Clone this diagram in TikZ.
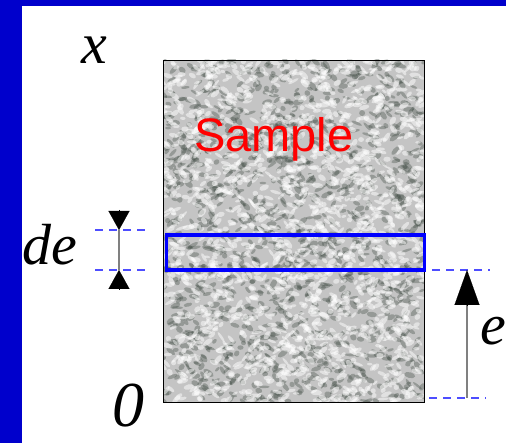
\documentclass[tikz,border=0pt]{standalone}
\usepackage{fontspec}
\setmainfont{Liberation Serif}
\setsansfont{Liberation Sans}
\usetikzlibrary{arrows.meta}
\definecolor{frameblue}{HTML}{0000CC}
\definecolor{boxblue}{HTML}{0000FF}
\definecolor{dashblue}{HTML}{4D4DFF}
\definecolor{texbase}{HTML}{C4C4C4}
\definecolor{texdark}{HTML}{3E4A42}
\definecolor{arrgray}{HTML}{808080}
\tikzset{
  lbl/.style={inner sep=0pt, anchor=base west, font=\fontsize{58}{60}\selectfont\itshape},
  guide/.style={dashblue, line width=1.1pt, dash pattern=on 8pt off 6pt},
  shaft/.style={arrgray, line width=1.5pt},
  headA/.style={-{Triangle[length=19pt,width=21pt,black]}, line width=0.1pt, black},
  headB/.style={-{Triangle[length=35pt,width=25pt,black]}, line width=0.1pt, black},
}
\begin{document}
\begin{tikzpicture}[x=1pt,y=-1pt]
\useasboundingbox (0,0) rectangle (506,443);
\fill[white] (0,0) rectangle (506,443);
% frame
\fill[frameblue] (0,0) rectangle (506,6);
\fill[frameblue] (0,0) rectangle (22,443);
% textured sample
\begin{scope}
\clip (163,60) rectangle (424,402);
\fill[texbase] (163,60) rectangle (424,402);
\pgfmathsetseed{11}
\foreach \i in {1,...,1300}{
  \pgfmathsetmacro\px{163+261*rnd}
  \pgfmathsetmacro\py{60+342*rnd}
  \pgfmathsetmacro\rx{2.5+3.5*rnd}
  \pgfmathsetmacro\ry{1.2+1.8*rnd}
  \pgfmathsetmacro\ang{-60+120*rnd}
  \fill[texdark, opacity=0.35, rotate around={\ang:(\px,\py)}] (\px,\py) ellipse [x radius=\rx, y radius=\ry];
}
\foreach \i in {1,...,1700}{
  \pgfmathsetmacro\px{163+261*rnd}
  \pgfmathsetmacro\py{60+342*rnd}
  \pgfmathsetmacro\rx{2.5+3.5*rnd}
  \pgfmathsetmacro\ry{1.2+1.6*rnd}
  \pgfmathsetmacro\ang{-60+120*rnd}
  \fill[white, opacity=0.5, rotate around={\ang:(\px,\py)}] (\px,\py) ellipse [x radius=\rx, y radius=\ry];
}
\end{scope}
\node[draw=black, line width=1pt, inner sep=0pt, minimum width=261pt, minimum height=342pt, anchor=north west] (sample) at (163,60) {};
\node[inner sep=0pt, anchor=base west, text=red, font=\sffamily\fontsize{47}{50}\selectfont] (samplelbl) at (194,152) {Sample};
% slice
\node[draw=boxblue, line width=3.2pt, inner sep=0pt, minimum width=258pt, minimum height=35pt, anchor=north west] (slice) at (164.5,233.5) {};
% guides
\coordinate (gL1a) at (95,230);
\coordinate (gL1b) at (150,230);
\coordinate (gL2a) at (95,270);
\coordinate (gL2b) at (150,270);
\coordinate (gR1a) at (432,270);
\coordinate (gR1b) at (490,270);
\coordinate (gR2a) at (429,398);
\coordinate (gR2b) at (486,398);
\draw[guide] (gL1a) -- (gL1b);
\draw[guide] (gL2a) -- (gL2b);
\draw[guide] (gR1a) -- (gR1b);
\draw[guide] (gR2a) -- (gR2b);
% de arrows
\coordinate (deTopBase) at (119,210);
\coordinate (deTopTip) at (119,230);
\coordinate (deBotTip) at (119,270);
\coordinate (deBotBase) at (119,289);
\draw[shaft] (deTopTip) -- (deBotTip);
\draw[headA] (deTopBase) -- (deTopTip);
\draw[headA] (deBotBase) -- (deBotTip);
% e arrow
\coordinate (eBase) at (467,398);
\coordinate (eHead) at (467,305);
\coordinate (eTip) at (467,270);
\draw[shaft] (eBase) -- (eHead);
\draw[headB] (eHead) -- (eTip);
% labels
\node[lbl] (xl) at (81,64) {x};
\node[lbl] (del) at (22,265) {de};
\node[lbl, font=\fontsize{64}{66}\selectfont\itshape] (zl) at (112,427) {0};
\node[lbl] (el) at (480,345) {e};
\end{tikzpicture}
\end{document}
